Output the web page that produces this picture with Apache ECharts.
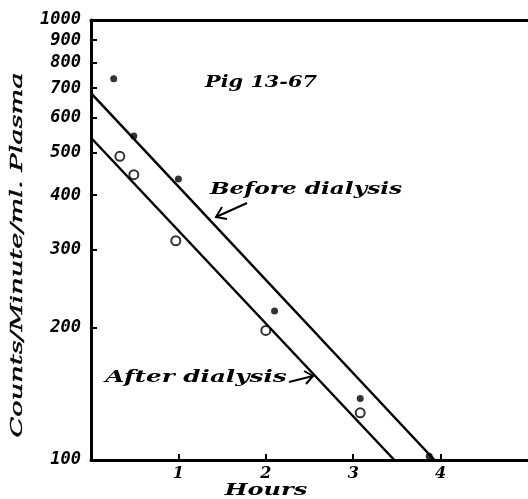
<!DOCTYPE html>
<html><head><meta charset="utf-8">
<script src="https://cdn.jsdelivr.net/npm/echarts@6/dist/echarts.min.js"></script>
<style>html,body{margin:0;padding:0;background:#fff}#c{width:528px;height:499px}</style>
</head><body><div id="c"></div>
<script>
// Data
var hoursBefore = [0.26, 0.49, 1.0, 2.1, 3.08, 3.87];
var countsBefore = [735, 545, 435, 218, 138, 102];
var hoursAfter = [0.33, 0.49, 0.97, 2.0, 3.08];
var countsAfter = [490, 445, 315, 197, 128];
var fitBeforeHours = [0, 3.93];
var fitBeforeCounts = [682, 100];
var fitAfterHours = [0, 3.47];
var fitAfterCounts = [540, 100];
var yTickValues = [100, 200, 300, 400, 500, 600, 700, 800, 900, 1000];
var yInnerTicks = [200, 300, 400, 500, 600, 700, 800, 900];
var xTickValues = [1, 2, 3, 4];

function pairs(xs, ys){ return xs.map(function(x,i){return [x, ys[i]];}); }

var FONT = 'DejaVu Serif';
var chart = echarts.init(document.getElementById('c'), null, {renderer:'canvas'});
var option = {
  backgroundColor: '#fff',
  animation: false,
  grid: {left: 91, right: -5, top: 20, bottom: 39, containLabel: false},
  xAxis: [{
    type: 'value', min: 0, max: 5, interval: 1,
    axisLine: {show: true, onZero: false, lineStyle: {color: '#000', width: 3}},
    axisTick: {show: true, inside: true, length: 6, lineStyle: {color: '#000', width: 2}, customValues: xTickValues},
    axisLabel: {show: true, customValues: xTickValues, color: '#000', fontFamily: FONT, fontStyle: 'italic', fontWeight: 'bold', fontSize: 16, margin: 6},
    splitLine: {show: false}
  }, {
    type: 'value', min: 0, max: 5, position: 'top',
    axisLine: {show: true, onZero: false, lineStyle: {color: '#000', width: 3}},
    axisTick: {show: false}, axisLabel: {show: false}, splitLine: {show: false}
  }],
  yAxis: {
    type: 'log', logBase: 10, min: 100, max: 1000,
    axisLine: {show: true, onZero: false, lineStyle: {color: '#000', width: 3}},
    axisTick: {show: true, inside: true, length: 6, lineStyle: {color: '#000', width: 2}, customValues: yInnerTicks},
    axisLabel: {show: true, customValues: yTickValues, formatter: function(v){ return String(Math.round(v)); },
      color: '#000', fontFamily: 'DejaVu Sans Mono', fontWeight: 'bold', fontStyle: 'italic', fontSize: 17, margin: 10},
    splitLine: {show: false}, minorTick: {show: false}
  },
  series: [
    {type: 'line', data: pairs(fitBeforeHours, fitBeforeCounts), showSymbol: false, lineStyle: {color: '#000', width: 2.5}, silent: true, z: 2},
    {type: 'line', data: pairs(fitAfterHours, fitAfterCounts), showSymbol: false, lineStyle: {color: '#000', width: 2.5}, silent: true, z: 2},
    {type: 'scatter', data: pairs(hoursBefore, countsBefore), symbol: 'circle', symbolSize: 7, itemStyle: {color: '#000'}, z: 3},
    {type: 'scatter', data: pairs(hoursAfter, countsAfter), symbol: 'circle', symbolSize: 9, itemStyle: {color: '#fff', borderColor: '#000', borderWidth: 2}, z: 3}
  ],
  graphic: [
    {type: 'text', x: 18, y: 255, rotation: Math.PI/2, scaleX: 1.7,
     style: {text: 'Counts/Minute/ml. Plasma', font: 'italic 16px "DejaVu Serif"', fill: '#000', align: 'center', verticalAlign: 'middle', stroke: '#000', lineWidth: 0.4}},
    {type: 'text', x: 266, y: 491, scaleX: 1.5,
     style: {text: 'Hours', font: 'italic bold 16px "DejaVu Serif"', fill: '#000', align: 'center', verticalAlign: 'middle'}},
    {type: 'text', x: 261, y: 83, scaleX: 1.3,
     style: {text: 'Pig 13-67', font: 'italic bold 16px "DejaVu Serif"', fill: '#000', align: 'center', verticalAlign: 'middle'}},
    {type: 'text', x: 306, y: 190, scaleX: 1.45,
     style: {text: 'Before dialysis', font: 'italic bold 16px "DejaVu Serif"', fill: '#000', align: 'center', verticalAlign: 'middle'}},
    {type: 'text', x: 196, y: 378, scaleX: 1.45,
     style: {text: 'After dialysis', font: 'italic bold 17px "DejaVu Serif"', fill: '#000', align: 'center', verticalAlign: 'middle'}},
    // arrows
    {type: 'polyline', shape: {points: [[247, 203], [216, 217]]}, style: {stroke: '#000', lineWidth: 2, fill: null}},
    {type: 'polyline', shape: {points: [[222, 207], [216, 217], [227, 219]]}, style: {stroke: '#000', lineWidth: 2, fill: null}},
    {type: 'polyline', shape: {points: [[289, 382], [313, 376]]}, style: {stroke: '#000', lineWidth: 2, fill: null}},
    {type: 'polyline', shape: {points: [[304, 371], [313, 376], [306, 384]]}, style: {stroke: '#000', lineWidth: 2, fill: null}}
  ]
};
chart.setOption(option);
</script>
</body></html>
